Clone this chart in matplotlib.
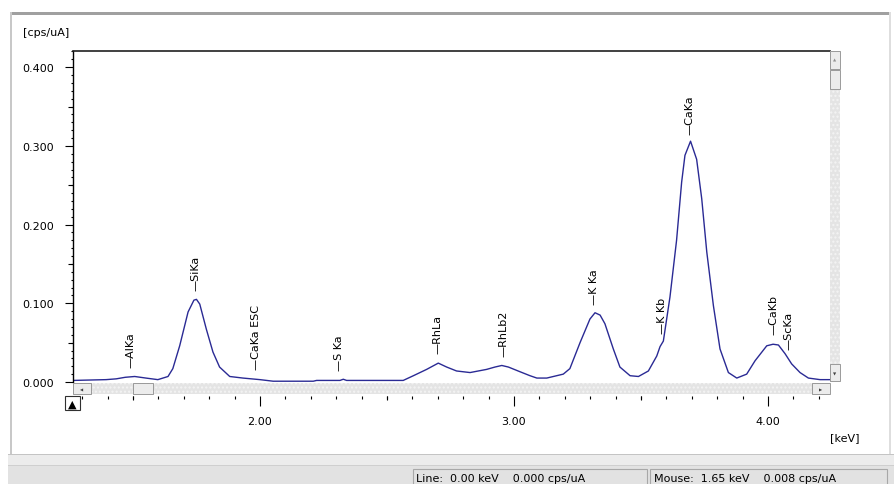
import numpy as np
import matplotlib
matplotlib.use("Agg")
import matplotlib.pyplot as plt
from matplotlib.patches import Rectangle

# spectrum
energy = [1.264, 1.394, 1.434, 1.470, 1.507, 1.551, 1.598, 1.638, 1.657, 1.684,
          1.717, 1.740, 1.750, 1.763, 1.789, 1.815, 1.841, 1.881, 1.933, 2.000,
          2.052, 2.210, 2.223, 2.315, 2.328, 2.341, 2.564, 2.604, 2.656, 2.702,
          2.735, 2.774, 2.827, 2.892, 2.925, 2.952, 2.978, 3.024, 3.063, 3.090,
          3.129, 3.194, 3.220, 3.260, 3.299, 3.319, 3.339, 3.358, 3.391, 3.417,
          3.457, 3.490, 3.529, 3.562, 3.575, 3.588, 3.614, 3.640, 3.660, 3.673,
          3.695, 3.719, 3.739, 3.759, 3.785, 3.811, 3.844, 3.877, 3.916, 3.949,
          3.995, 4.020, 4.041, 4.067, 4.093, 4.126, 4.159, 4.205, 4.244]
cps = [0.002, 0.003, 0.004, 0.006, 0.007, 0.005, 0.003, 0.007, 0.017, 0.046,
       0.089, 0.104, 0.105, 0.099, 0.067, 0.038, 0.019, 0.007, 0.005, 0.003,
       0.001, 0.001, 0.002, 0.002, 0.0035, 0.002, 0.002, 0.008, 0.016, 0.024,
       0.019, 0.014, 0.012, 0.016, 0.019, 0.021, 0.019, 0.013, 0.008, 0.005,
       0.005, 0.010, 0.017, 0.050, 0.080, 0.088, 0.085, 0.074, 0.042, 0.019,
       0.008, 0.007, 0.014, 0.033, 0.045, 0.052, 0.108, 0.180, 0.254, 0.288,
       0.306, 0.283, 0.233, 0.165, 0.097, 0.042, 0.012, 0.005, 0.010, 0.027,
       0.046, 0.048, 0.047, 0.036, 0.023, 0.012, 0.005, 0.003, 0.003]

line_names = ["AlKa", "SiKa", "CaKa ESC", "S Ka", "RhLa", "RhLb2",
              "K Ka", "K Kb", "CaKa", "CaKb", "ScKa"]
line_kev = [1.49, 1.745, 1.985, 2.31, 2.70, 2.96, 3.315, 3.583, 3.69, 4.02, 4.082]

W, H = 894, 485
fig = plt.figure(figsize=(W / 100, H / 100), dpi=100)
fig.patch.set_facecolor("white")


def box(x0, y0, x1, y1, z=1, **kw):
    r = Rectangle((x0 / W, 1 - y1 / H), (x1 - x0) / W, (y1 - y0) / H,
                  transform=fig.transFigure, zorder=z, **kw)
    fig.add_artist(r)
    return r


def ftext(x, y, s, z=20, **kw):
    fig.text(x / W, 1 - y / H, s, zorder=z, **kw)


# window frame
box(10, 13, 891, 456, facecolor="white", edgecolor="none")
box(10, 13, 891, 16, facecolor="#a0a0a0", edgecolor="none")
box(10, 13, 12, 456, facecolor="#c8c8c8", edgecolor="none")
box(889, 13, 891, 456, facecolor="#dedede", edgecolor="none")
box(8, 455, 894, 467, facecolor="#ececec", edgecolor="none")
box(8, 455, 894, 456, facecolor="#c4c4c4", edgecolor="none")
box(8, 467, 894, 485, facecolor="#e2e2e2", edgecolor="none")
box(8, 466, 894, 467, facecolor="#cfcfcf", edgecolor="none")
box(413, 470, 647, 486, facecolor="#e2e2e2", edgecolor="#a8a8a8", linewidth=0.8)
box(650, 470, 887, 486, facecolor="#e2e2e2", edgecolor="#a8a8a8", linewidth=0.8)
ftext(416, 479, "Line:  0.00 keV    0.000 cps/uA", fontsize=8, va="center", ha="left")
ftext(654, 479, "Mouse:  1.65 keV    0.008 cps/uA", fontsize=8, va="center", ha="left")

# main axes
x0, x1 = 1.264, 4.244
y0, y1 = 0.0, 0.4206
ax = fig.add_axes([73 / W, 1 - 383 / H, (830 - 73) / W, (383 - 52) / H])
ax.set_zorder(5)
ax.plot(energy, cps, color="#2a2a94", linewidth=1.0)
ax.set_xlim(x0, x1)
ax.set_ylim(y0, y1)
ax.patch.set_visible(False)

for s in ["right", "bottom"]:
    ax.spines[s].set_visible(False)
ax.spines["left"].set_linewidth(1.0)
ax.spines["top"].set_linewidth(1.2)
ax.spines["top"].set_color("#202020")
ax.spines["bottom"].set_position(("outward", 10))

ax.set_xticks(np.arange(2.0, 4.01, 1.0))
ax.set_xticklabels([f"{v:.2f}" for v in np.arange(2.0, 4.01, 1.0)], fontsize=8)
ax.set_xticks(np.arange(1.3, 4.25, 0.1), minor=True)
ax.set_yticks(np.arange(0.0, 0.41, 0.1))
ax.set_yticklabels([f"{v:.3f}" for v in np.arange(0.0, 0.41, 0.1)], fontsize=8)
ax.set_yticks(np.arange(0.0, 0.421, 0.01), minor=True)
ax.tick_params(axis="x", which="major", length=7.2, width=0.8, pad=7.5, direction="out")
ax.tick_params(axis="x", which="minor", length=1.8, width=0.8, direction="out")
ax.tick_params(axis="y", which="major", length=5.8, width=0.8, pad=8, direction="out")
ax.tick_params(axis="y", which="minor", length=1.5, width=0.8, direction="out")

# medium ticks (every 0.5 keV / 0.05 cps), separate axes with same limits
ax2 = fig.add_axes(ax.get_position(), frameon=False)
ax2.set_zorder(6)
ax2.set_xlim(x0, x1)
ax2.set_ylim(y0, y1)
for s in ["right", "top", "left", "bottom"]:
    ax2.spines[s].set_visible(False)
ax2.spines["bottom"].set_position(("outward", 10))
ax2.set_xticks(np.arange(1.5, 4.25, 1.0))
ax2.set_yticks(np.arange(0.05, 0.42, 0.1))
ax2.tick_params(axis="x", length=3.2, width=0.8, labelbottom=False)
ax2.tick_params(axis="y", length=3.8, width=0.8, labelleft=False)
ax2.patch.set_visible(False)

# line markers
for name, e in zip(line_names, line_kev):
    yv = np.interp(e, energy, cps) + 0.013
    ax.text(e, yv, "\u2014" + name, rotation=90, rotation_mode="anchor",
            ha="left", va="center", fontsize=8, color="black")

# scrollbars
box(73, 384, 830, 395, z=10, facecolor="#e4e4e4", edgecolor="#f4f4f4",
    hatch="....", linewidth=0)
box(830, 52, 840, 383, z=10, facecolor="#e4e4e4", edgecolor="#f4f4f4",
    hatch="....", linewidth=0)
for b in [(73, 384, 91, 395), (133, 384, 153, 395), (812, 384, 830, 395),
          (830, 52, 840, 70), (830, 71, 840, 90), (830, 365, 840, 382)]:
    box(*b, z=11, facecolor="#ececec", edgecolor="#8c8c8c", linewidth=0.6)
ftext(82, 390, "\u25c0", fontsize=3, ha="center", va="center", color="#404040")
ftext(821, 390, "\u25b6", fontsize=3, ha="center", va="center", color="#404040")
ftext(835, 61, "\u25b2", fontsize=3, ha="center", va="center", color="#909090")
ftext(835, 374, "\u25bc", fontsize=3, ha="center", va="center", color="#404040")
box(65, 397, 80, 411, z=11, facecolor="white", edgecolor="#303030", linewidth=0.8)
ftext(72.5, 404.5, "\u25b2", fontsize=8, ha="center", va="center", color="black")

ftext(23, 33, "[cps/uA]", fontsize=8, ha="left", va="center")
ftext(830, 438, "[keV]", fontsize=8, ha="left", va="center")

fig.savefig("out.png", dpi=100)
